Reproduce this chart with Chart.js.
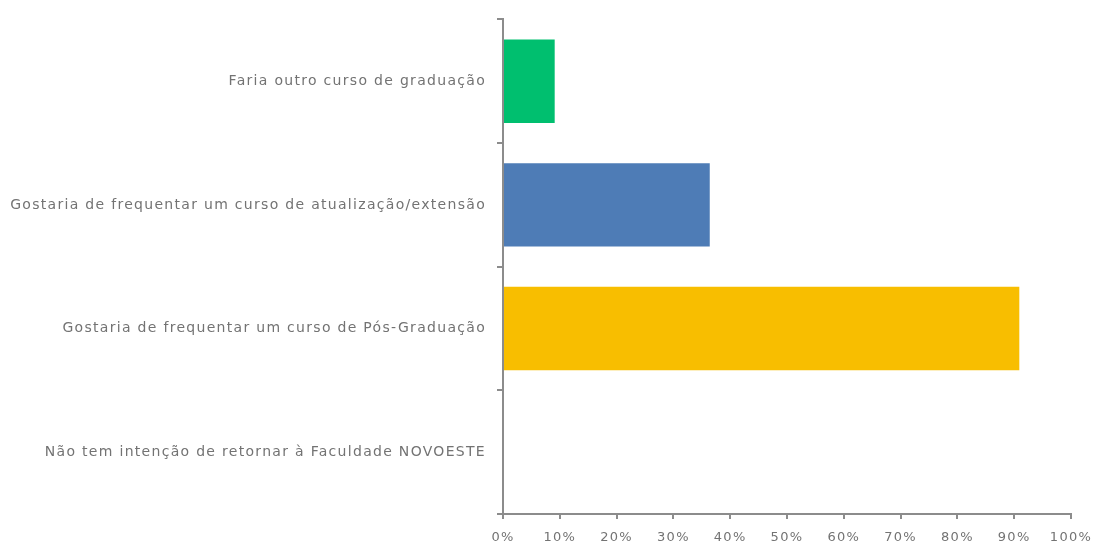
<!DOCTYPE html>
<html>
<head>
<meta charset="utf-8">
<script src="https://cdn.jsdelivr.net/npm/chart.js@4"></script>
<style>
  html, body { margin: 0; padding: 0; background: #fff; }
  #wrap { width: 1094px; height: 547px; }
</style>
</head>
<body>
<div id="wrap"><canvas id="chart"></canvas></div>
<script>
const categories = [
  'Faria outro curso de graduação',
  'Gostaria de frequentar um curso de atualização/extensão',
  'Gostaria de frequentar um curso de Pós-Graduação',
  'Não tem intenção de retornar à Faculdade NOVOESTE'
];
const percents = [9.1, 36.4, 90.9, 0];
const barColors = ['#00bf6f', '#4e7cb6', '#f8be00', '#a5a5a5'];
const xTicks = [0, 10, 20, 30, 40, 50, 60, 70, 80, 90, 100];

const axisColor = '#8c8c8c';
const textColor = '#737373';

// labels are drawn a bit spread out
const spacing = {
  id: 'spacing',
  beforeDraw(chart) {
    chart.ctx.letterSpacing = '1.3px';
  },
  afterDraw(chart) {
    chart.ctx.letterSpacing = '0px';
  }
};

new Chart(document.getElementById('chart'), {
  type: 'bar',
  data: {
    labels: categories,
    datasets: [{
      data: percents,
      backgroundColor: barColors,
      borderWidth: 0,
      categoryPercentage: 0.675,
      barPercentage: 1
    }]
  },
  options: {
    indexAxis: 'y',
    responsive: true,
    maintainAspectRatio: false,
    animation: false,
    layout: { padding: { top: 10, right: 23, bottom: 0, left: 0 } },
    plugins: {
      legend: { display: false },
      tooltip: { enabled: false }
    },
    scales: {
      x: {
        min: 0,
        max: 100,
        afterBuildTicks: (scale) => {
          scale.ticks = xTicks.map(v => ({ value: v }));
        },
        afterFit: (scale) => {
          scale.height = 33;
          scale.paddingRight = 0;
          scale.paddingLeft = 0;
        },
        border: { color: axisColor, width: 2 },
        grid: {
          drawOnChartArea: false,
          drawTicks: true,
          tickLength: 5,
          color: axisColor,
          lineWidth: 2
        },
        ticks: {
          color: textColor,
          padding: 11,
          font: { family: 'DejaVu Sans', size: 13 },
          callback: (v) => v + '%'
        }
      },
      y: {
        afterFit: (scale) => { scale.width = 503; },
        border: { color: axisColor, width: 2 },
        grid: {
          offset: true,
          drawOnChartArea: false,
          drawTicks: true,
          tickLength: 6,
          color: axisColor,
          lineWidth: 2
        },
        ticks: {
          color: textColor,
          padding: 11,
          font: { family: 'DejaVu Sans', size: 14 }
        }
      }
    }
  },
  plugins: [spacing]
});
</script>
</body>
</html>
